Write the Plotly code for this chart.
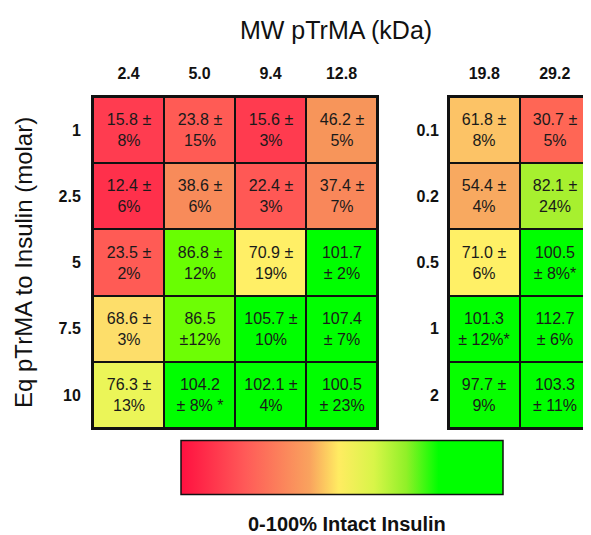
import plotly.graph_objects as go

# ---- data ----
mw_left = ["2.4", "5.0", "9.4", "12.8"]
eq_left = ["1", "2.5", "5", "7.5", "10"]
mean_left = [
    [15.8, 23.8, 15.6, 46.2],
    [12.4, 38.6, 22.4, 37.4],
    [23.5, 86.8, 70.9, 101.7],
    [68.6, 86.5, 105.7, 107.4],
    [76.3, 104.2, 102.1, 100.5],
]
label_left = [
    ["15.8 ±<br>8%", "23.8 ±<br>15%", "15.6 ±<br>3%", "46.2 ±<br>5%"],
    ["12.4 ±<br>6%", "38.6 ±<br>6%", "22.4 ±<br>3%", "37.4 ±<br>7%"],
    ["23.5 ±<br>2%", "86.8 ±<br>12%", "70.9 ±<br>19%", "101.7<br>± 2%"],
    ["68.6 ±<br>3%", "86.5<br>±12%", "105.7 ±<br>10%", "107.4<br>± 7%"],
    ["76.3 ±<br>13%", "104.2<br>± 8% *", "102.1 ±<br>4%", "100.5<br>± 23%"],
]

mw_right = ["19.8", "29.2"]
eq_right = ["0.1", "0.2", "0.5", "1", "2"]
mean_right = [
    [61.8, 30.7],
    [54.4, 82.1],
    [71.0, 100.5],
    [101.3, 112.7],
    [97.7, 103.3],
]
label_right = [
    ["61.8 ±<br>8%", "30.7 ±<br>5%"],
    ["54.4 ±<br>4%", "82.1 ±<br>24%"],
    ["71.0 ±<br>6%", "100.5<br>± 8%*"],
    ["101.3<br>± 12%*", "112.7<br>± 6%"],
    ["97.7 ±<br>9%", "103.3<br>± 11%"],
]

# ---- styles ----
cell_scale = [
    [0.00, "#ff1040"], [0.12, "#ff2e4a"], [0.16, "#ff3d50"], [0.23, "#ff5a55"],
    [0.31, "#ff6655"], [0.38, "#f88a5a"], [0.46, "#f7955a"], [0.54, "#f8a860"],
    [0.62, "#fcc466"], [0.69, "#fde06a"], [0.71, "#fff066"], [0.76, "#eef55a"],
    [0.82, "#a8f030"], [0.87, "#66ff00"], [0.95, "#10ff00"], [1.00, "#00ff00"],
]
bar_scale = [
    [0.00, "#ff1040"], [0.20, "#ff5a58"], [0.40, "#f9a35e"], [0.49, "#ffec62"],
    [0.60, "#d8f548"], [0.70, "#90f028"], [0.80, "#00ff00"], [1.00, "#00ff00"],
]

OFF = 8  # page body margin
W, H = 591 - OFF, 535 - OFF
def px_x(p): return (p - OFF) / W
def px_y(p): return 1 - (p - OFF) / H

txtfont = dict(family="Liberation Sans, Arial, sans-serif", size=16, color="#1a1a1a")
tickfont = dict(family="Liberation Sans, Arial, sans-serif", size=16, color="#111111", weight=700)

fig = go.Figure()
fig.add_trace(go.Heatmap(
    x=mw_left, y=eq_left, z=mean_left, text=label_left, texttemplate="%{text}",
    textfont=txtfont, colorscale=cell_scale, zmin=0, zmax=100, showscale=False,
    xgap=2, ygap=2, xaxis="x", yaxis="y", hoverinfo="skip",
))
fig.add_trace(go.Heatmap(
    x=mw_right, y=eq_right, z=mean_right, text=label_right, texttemplate="%{text}",
    textfont=txtfont, colorscale=cell_scale, zmin=0, zmax=100, showscale=False,
    xgap=2, ygap=2, xaxis="x2", yaxis="y2", hoverinfo="skip",
))
# colour bar
fig.add_trace(go.Scatter(
    x=[None], y=[None], mode="markers", xaxis="x", yaxis="y", showlegend=False,
    marker=dict(color=[0], cmin=0, cmax=100, colorscale=bar_scale, showscale=True,
                colorbar=dict(orientation="h", x=px_x(342), xanchor="center",
                              y=px_y(496), yanchor="bottom", len=322 / W, lenmode="fraction",
                              thickness=54, thicknessmode="pixels", outlinecolor="#111111",
                              outlinewidth=1.5, showticklabels=False, ticks="", xpad=0, ypad=0)),
))

axis_common = dict(showline=True, linecolor="#111111", linewidth=2, mirror=True,
                   showgrid=False, zeroline=False, ticks="", tickfont=tickfont)

fig.update_layout(
    width=W, height=H, margin=dict(l=0, r=0, t=0, b=0),
    paper_bgcolor="white", plot_bgcolor="#111111",
    showlegend=False,
    xaxis=dict(domain=[px_x(93), px_x(377)], side="top", anchor="y",
               ticklabelstandoff=10, **axis_common),
    yaxis=dict(domain=[px_y(428), px_y(97)], autorange="reversed", anchor="x",
               ticklabelstandoff=7, **axis_common),
    xaxis2=dict(domain=[px_x(449), px_x(590)], side="top", anchor="y2",
                ticklabelstandoff=10, **axis_common),
    yaxis2=dict(domain=[px_y(428), px_y(97)], autorange="reversed", anchor="x2",
                ticklabelstandoff=5, **axis_common),
    annotations=[
        dict(text="MW pTrMA (kDa)", x=px_x(336), y=px_y(30), xref="paper", yref="paper",
             xanchor="center", yanchor="middle", showarrow=False,
             font=dict(family="Liberation Sans, Arial, sans-serif", size=25, color="#111111")),
        dict(text="Eq pTrMA to Insulin (molar)", x=px_x(23), y=px_y(263), xref="paper", yref="paper",
             xanchor="center", yanchor="middle", showarrow=False, textangle=-90,
             font=dict(family="Liberation Sans, Arial, sans-serif", size=24, color="#111111")),
        dict(text="<b>0-100% Intact Insulin</b>", x=px_x(347), y=px_y(524), xref="paper", yref="paper",
             xanchor="center", yanchor="middle", showarrow=False,
             font=dict(family="Liberation Sans, Arial, sans-serif", size=20, color="#111111")),
    ],
)

fig.write_html("out.html")
